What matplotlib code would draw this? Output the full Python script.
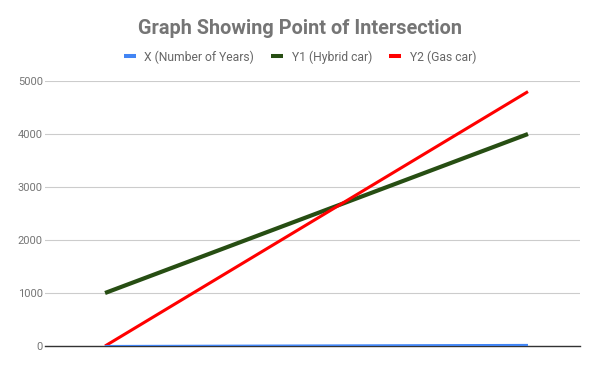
import matplotlib.pyplot as plt
from matplotlib.lines import Line2D

plt.rcParams["font.family"] = ["Roboto", "DejaVu Sans"]

years = [0, 5, 10, 15, 20]
x_series = [0, 5, 10, 15, 20]
hybrid_car = [1000, 1750, 2500, 3250, 4000]
gas_car = [0, 1200, 2400, 3600, 4800]
y_ticks = [0, 1000, 2000, 3000, 4000, 5000]

BLUE = "#4285f4"
GREEN = "#274e13"
RED = "#ff0000"

fig = plt.figure(figsize=(6, 3.71), dpi=100)
ax = fig.add_axes([45 / 600, 1 - 346 / 371, 535 / 600, 265 / 371])

ax.plot(years, hybrid_car, color=GREEN, lw=3.0, solid_capstyle="butt", zorder=3)
ax.plot(years, gas_car, color=RED, lw=2.2, solid_capstyle="butt", zorder=4)
ax.plot(years, x_series, color=BLUE, lw=1.5, solid_capstyle="butt", zorder=5)

ax.set_xlim(-2.84, 22.46)
ax.set_ylim(0, 5000)
ax.set_yticks(y_ticks)
ax.set_yticklabels([str(v) for v in y_ticks])
ax.set_xticks([])
ax.tick_params(axis="y", length=0, pad=1.5, labelsize=8, labelcolor="#757575")
ax.grid(axis="y", color="#cccccc", lw=0.8)
ax.set_axisbelow(True)
for side in ["top", "right", "left"]:
    ax.spines[side].set_visible(False)
ax.spines["bottom"].set_color("#333333")
ax.spines["bottom"].set_linewidth(1.0)

fig.text(0.5, 1 - 28 / 371, "Graph Showing Point of Intersection", ha="center", va="center",
         fontsize=14.3, fontweight="bold", color="#757575")

handles = [
    Line2D([], [], color=BLUE, lw=2.9, solid_capstyle="butt"),
    Line2D([], [], color=GREEN, lw=2.9, solid_capstyle="butt"),
    Line2D([], [], color=RED, lw=2.9, solid_capstyle="butt"),
]
labels = ["X (Number of Years)", "Y1 (Hybrid car)", "Y2 (Gas car)"]
fig.legend(handles, labels, loc="center", bbox_to_anchor=(0.5, 1 - 57 / 371), ncol=3,
           frameon=False, fontsize=8.7, labelcolor="#666666", handlelength=1.0,
           handletextpad=0.73, columnspacing=1.38)

fig.savefig("out.png", dpi=100)
